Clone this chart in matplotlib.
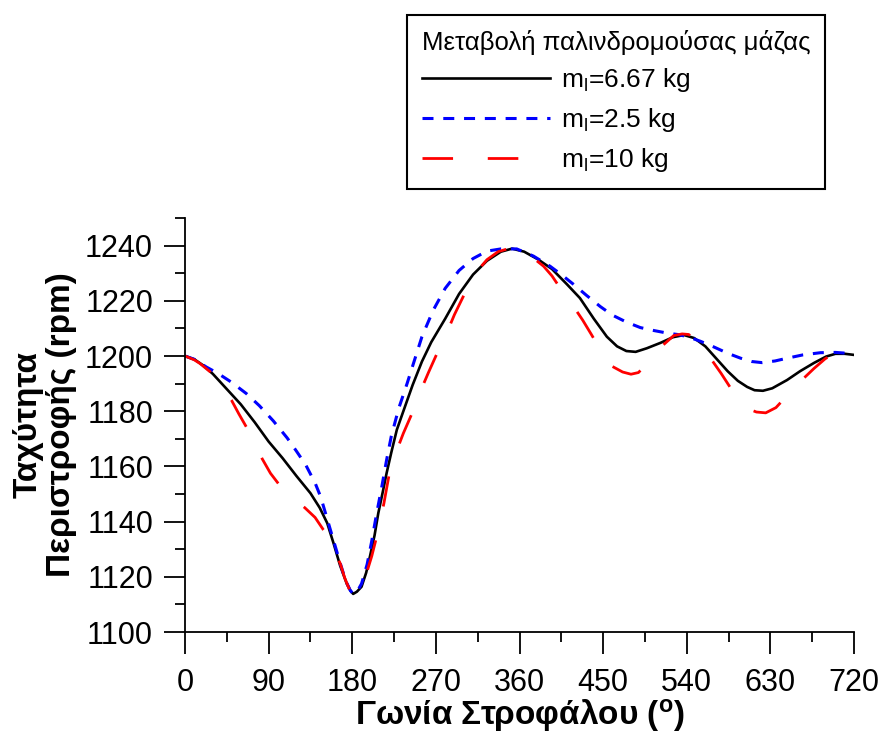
import matplotlib
matplotlib.use("Agg")
import matplotlib.pyplot as plt
from matplotlib.ticker import MultipleLocator

plt.rcParams["font.family"] = ["Liberation Sans", "DejaVu Sans"]
plt.rcParams["mathtext.default"] = "regular"

# crank angle (deg) / rotational speed (rpm)
angle_667 = [0, 10, 20, 30, 45, 60, 75, 90, 105, 120, 135, 145, 153, 160, 167,
             174, 178, 181, 185, 190, 195, 199, 204, 208, 213, 217, 222, 228,
             235, 245, 255, 265, 280, 295, 310, 325, 340, 352, 365, 380, 395,
             411, 425, 440, 454, 465, 475, 485, 497, 512, 525, 537, 548, 560,
             572, 584, 595, 605, 613, 622, 632, 648, 662, 677, 690, 700, 710, 720]
speed_667 = [1200, 1198.8, 1196.5, 1193.5, 1188, 1182.5, 1176, 1169, 1163,
             1156.5, 1150.3, 1145, 1139.5, 1132, 1124, 1117.6, 1115, 1113.8,
             1114.6, 1116.4, 1121.5, 1127.3, 1135, 1143, 1151, 1157.6, 1165,
             1173.3, 1180, 1189.5, 1198, 1205, 1213.5, 1222.5, 1229.5, 1234.5,
             1237.8, 1238.9, 1237.8, 1235, 1231.5, 1226, 1221, 1213.5, 1207,
             1203.5, 1201.8, 1201.5, 1202.8, 1204.8, 1206.8, 1207.6, 1206.5,
             1203.5, 1199, 1194.5, 1191, 1188.8, 1187.6, 1187.4, 1188.3, 1191.3,
             1194.5, 1197.5, 1199.8, 1200.8, 1200.8, 1200.4]

angle_25 = [0, 10, 23, 35, 50, 66, 80, 95, 110, 120, 130, 140, 146, 153, 160,
            167, 173, 178, 181, 185, 190, 196, 201, 206, 212, 217, 222, 230,
            239, 247, 255, 267, 280, 295, 310, 325, 340, 357, 375, 393, 405,
            418, 432, 447, 460, 475, 490, 505, 519, 530, 541, 555, 569, 584,
            598, 610, 621, 635, 648, 665, 684, 700, 720]
speed_25 = [1200, 1198.8, 1196, 1193.8, 1190.5, 1186.4, 1182, 1176.5, 1170.3,
            1165.5, 1160.5, 1154, 1149, 1141, 1133, 1125, 1118.5, 1115, 1113.8,
            1114.5, 1117.5, 1124.5, 1133, 1142.5, 1153, 1162.4, 1170.9, 1181,
            1190, 1198.5, 1207, 1216.5, 1224.5, 1231, 1235.3, 1238, 1238.8,
            1238.8, 1236.2, 1232.5, 1229.5, 1226, 1222, 1217.9, 1214.8, 1212.3,
            1210.3, 1209.2, 1208.3, 1207.8, 1207, 1205.3, 1203.3, 1201, 1199.2,
            1198, 1197.6, 1198.2, 1199.2, 1200.4, 1201.2, 1201.3, 1200.8]

angle_10 = [0, 10, 16, 27, 38, 50, 58, 66, 75, 83, 92, 102, 110, 120, 129, 140,
            149, 155, 160, 167, 172, 177, 181, 185, 190, 196, 201, 207, 214, 220,
            227, 235, 246, 255, 262, 270, 280, 290, 303, 315, 325, 337, 350, 360,
            370, 386, 395, 404, 415, 428, 437, 444, 452, 460, 471, 480, 488, 499,
            507, 513, 526, 535, 542, 550, 558, 567, 577, 587, 595, 605, 615, 625,
            636, 650, 663, 677, 689, 700, 710, 720]
speed_10 = [1200, 1198.6, 1197.3, 1194.3, 1189.8, 1184, 1179, 1174.3, 1168.5,
            1162.8, 1157.5, 1153.1, 1150.5, 1147.5, 1145, 1141.5, 1137, 1134.5,
            1129.5, 1124.9, 1119.5, 1115.3, 1113.8, 1114.8, 1117, 1122, 1127.5,
            1135.5, 1146.5, 1157.6, 1165, 1172, 1180.5, 1188.5, 1194, 1200,
            1207, 1215, 1224, 1231, 1234.9, 1237.8, 1239.1, 1238.8, 1236.8,
            1232.5, 1229, 1224.5, 1219.5, 1213, 1208, 1204, 1199.5, 1196.2,
            1194.2, 1193.4, 1194, 1197.8, 1201, 1203.5, 1207.4, 1208, 1207.8,
            1206, 1202.5, 1198.5, 1193.7, 1188.5, 1184.6, 1181, 1179.7, 1179.4,
            1181.3, 1186.4, 1191, 1195.5, 1199, 1201.2, 1201, 1200.5]

labels = [r"m$_{l}$=6.67 kg", r"m$_{l}$=2.5 kg", r"m$_{l}$=10 kg"]

fig = plt.figure(figsize=(8.81, 7.36), dpi=100)
ax = fig.add_axes([185 / 881, 1 - 632 / 736, (854 - 185) / 881, (632 - 218) / 736])

ax.plot(angle_667, speed_667, color="black", lw=1.9, label=labels[0])
ax.plot(angle_25, speed_25, color="#0000ff", lw=2.2, dashes=(3.6, 3.2), label=labels[1])
ax.plot(angle_10, speed_10, color="#ff0000", lw=2.0, dashes=(11, 12.5), label=labels[2])

ax.set_xlim(0, 720)
ax.set_ylim(1100, 1250)
ax.xaxis.set_major_locator(MultipleLocator(90))
ax.xaxis.set_minor_locator(MultipleLocator(45))
ax.yaxis.set_minor_locator(MultipleLocator(10))
ax.set_yticks(range(1100, 1241, 20))
ax.spines["top"].set_visible(False)
ax.spines["right"].set_visible(False)
for s in ("left", "bottom"):
    ax.spines[s].set_linewidth(1.3)
ax.tick_params(which="major", direction="out", length=15, width=1.3, labelsize=22, pad=8)
ax.tick_params(which="minor", direction="out", length=7.5, width=1.3)
ax.tick_params(axis="x", which="major", length=16, pad=10)

ax.set_xlabel(r"Γωνία Στροφάλου ($^{o}$)", fontsize=24, fontweight="bold", labelpad=-1)
ax.set_ylabel("Ταχύτητα\nΠεριστροφής (rpm)", fontsize=24, fontweight="bold",
              labelpad=6, linespacing=1.1)

leg = ax.legend(title="Μεταβολή παλινδρομούσας μάζας", loc="upper left",
                bbox_to_anchor=(407 / 881, 1 - 15 / 736), bbox_transform=fig.transFigure,
                fontsize=19, title_fontsize=18.5, handlelength=4.85, handletextpad=0.45,
                fancybox=False, framealpha=1, edgecolor="black", borderpad=0.55,
                labelspacing=0.45, borderaxespad=0)
leg.get_frame().set_linewidth(1.5)
leg._legend_box.align = "left"

fig.savefig("out.png", dpi=100)
